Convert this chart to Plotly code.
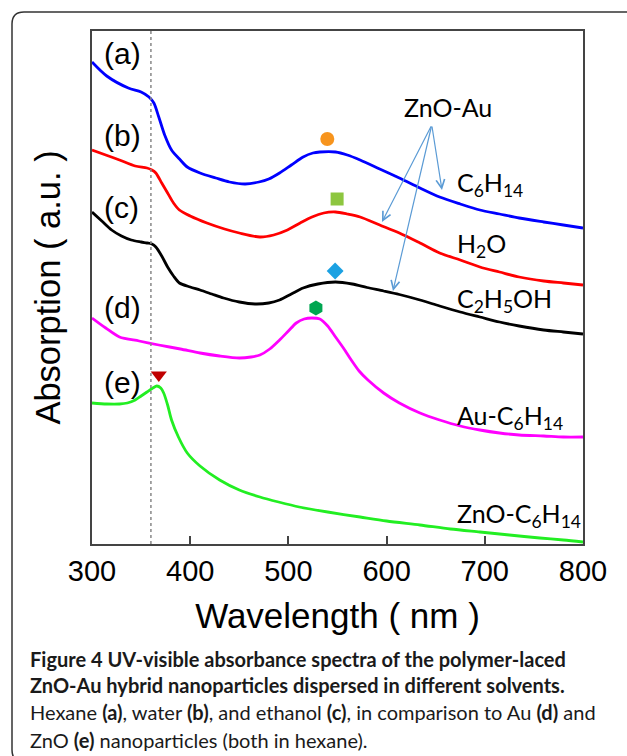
import plotly.graph_objects as go

# ---------------- data (wavelength nm, absorbance a.u., offset for display) -------------
wl_a = [300, 315, 337, 350, 358, 363, 368, 374, 381, 390, 397, 410, 426, 440, 456, 470, 480, 491, 503, 515,
        525, 532, 548, 560, 573, 593, 613, 634, 654, 675, 695, 715, 735, 760, 780, 800]
abs_a = [4.82, 4.68, 4.56, 4.52, 4.47, 4.41, 4.27, 4.09, 3.94, 3.84, 3.77, 3.71, 3.66, 3.62, 3.60, 3.62,
         3.65, 3.71, 3.79, 3.87, 3.91, 3.92, 3.92, 3.89, 3.84, 3.75, 3.66, 3.56, 3.47, 3.40, 3.34, 3.30,
         3.26, 3.22, 3.19, 3.16]

wl_b = [300, 314, 328, 344, 356, 361, 365, 371, 377, 383, 389, 400, 417, 435, 450, 471, 485, 499, 512, 524,
        536, 548, 560, 573, 593, 613, 634, 654, 675, 695, 715, 735, 760, 780, 800]
abs_b = [3.94, 3.89, 3.84, 3.78, 3.76, 3.74, 3.71, 3.61, 3.51, 3.41, 3.34, 3.28, 3.21, 3.15, 3.11, 3.07,
         3.09, 3.14, 3.21, 3.27, 3.31, 3.32, 3.30, 3.27, 3.19, 3.11, 3.01, 2.91, 2.84, 2.77, 2.72, 2.67,
         2.63, 2.61, 2.59]

wl_c = [300, 310, 320, 330, 340, 350, 356, 361, 365, 371, 377, 383, 389, 400, 410, 422, 434, 450, 466, 480,
        491, 503, 515, 530, 548, 565, 580, 597, 613, 634, 654, 675, 695, 715, 735, 760, 780, 800]
abs_c = [3.32, 3.23, 3.14, 3.08, 3.04, 3.02, 3.01, 3.00, 2.97, 2.88, 2.77, 2.68, 2.61, 2.57, 2.54, 2.50,
         2.46, 2.42, 2.40, 2.41, 2.44, 2.50, 2.56, 2.60, 2.62, 2.60, 2.565, 2.53, 2.495, 2.44, 2.38, 2.32,
         2.27, 2.22, 2.18, 2.14, 2.12, 2.10]

wl_d = [300, 314, 328, 348, 368, 390, 410, 430, 450, 462, 471, 481, 491, 500, 508, 516, 524, 532, 540, 548,
        556, 564, 572, 581, 597, 613, 634, 654, 675, 695, 715, 735, 760, 780, 800]
abs_d = [2.26, 2.16, 2.07, 2.03, 1.99, 1.95, 1.91, 1.88, 1.86, 1.87, 1.89, 1.95, 2.04, 2.13, 2.21, 2.25,
         2.26, 2.25, 2.18, 2.07, 1.96, 1.84, 1.73, 1.64, 1.51, 1.41, 1.31, 1.24, 1.18, 1.14, 1.11, 1.09,
         1.08, 1.07, 1.07]

wl_e = [300, 315, 328, 336, 344, 350, 356, 362, 366, 370, 373, 377, 381, 388, 397, 410, 430, 450, 471, 490,
        511, 540, 573, 600, 634, 665, 695, 725, 756, 780, 800]
abs_e = [1.41, 1.40, 1.40, 1.41, 1.44, 1.48, 1.52, 1.56, 1.58, 1.56, 1.51, 1.39, 1.24, 1.07, 0.91, 0.78,
         0.64, 0.54, 0.47, 0.42, 0.37, 0.32, 0.27, 0.23, 0.19, 0.15, 0.12, 0.09, 0.06, 0.04, 0.02]

curve_tags = ["(a)", "(b)", "(c)", "(d)", "(e)"]
curve_tag_y = [4.91, 4.09, 3.37, 2.37, 1.62]
curve_names = ["ZnO-Au in C<sub>6</sub>H<sub>14</sub>", "ZnO-Au in H<sub>2</sub>O",
               "ZnO-Au in C<sub>2</sub>H<sub>5</sub>OH", "Au-C<sub>6</sub>H<sub>14</sub>",
               "ZnO-C<sub>6</sub>H<sub>14</sub>"]
curve_colors = ["#0000FF", "#FF0000", "#000000", "#FF00FF", "#22EE22"]

# peak markers
peak_wl = [539.6, 549.6, 547.6, 528, 368]
peak_y = [4.05, 3.45, 2.73, 2.36, 1.69]
peak_symbols = ["circle", "square", "diamond", "hexagon", "triangle-down"]
peak_colors = ["#F7941D", "#8DC63F", "#1BA1E2", "#00A651", "#C00000"]
peak_sizes = [14, 13, 13, 15, 14]

# right-hand labels
side_labels = ["C<sub>6</sub>H<sub>14</sub>", "H<sub>2</sub>O", "C<sub>2</sub>H<sub>5</sub>OH",
               "Au-C<sub>6</sub>H<sub>14</sub>", "ZnO-C<sub>6</sub>H<sub>14</sub>"]
side_label_y = [3.60, 2.99, 2.44, 1.27, 0.29]
side_label_x = 670

group_label = "ZnO-Au"
group_label_pos = (662.5, 4.37)
arrow_tail = (646, 4.19)
arrow_heads_wl = [656.4, 595.3, 606.5]
arrow_heads_y = [3.54, 3.22, 2.53]

band_edge = 360
x_ticks = [300, 400, 500, 600, 700, 800]

# ---------------- geometry (body margin removed by post_script) ----------------
FW, FH = 627, 756
PL, PT, PW, PH = 92, 31, 491, 513


def px_to_paper_x(px):
    return (px - PL) / PW


def py_to_paper_y(py):
    return (PT + PH - py) / PH


# ---------------- figure ----------------
fig = go.Figure()
series = [(wl_a, abs_a), (wl_b, abs_b), (wl_c, abs_c), (wl_d, abs_d), (wl_e, abs_e)]
for (wx, wy), name, col in zip(series, curve_names, curve_colors):
    fig.add_trace(go.Scatter(x=wx, y=wy, mode="lines", name=name,
                             line=dict(color=col, width=2.8, shape="spline", smoothing=0.8),
                             showlegend=False))

for wx, wy, sym, col, sz in zip(peak_wl, peak_y, peak_symbols, peak_colors, peak_sizes):
    fig.add_trace(go.Scatter(x=[wx], y=[wy], mode="markers", showlegend=False,
                             marker=dict(symbol=sym, color=col, size=sz, line=dict(width=0))))

annotations = []
for tag, ty in zip(curve_tags, curve_tag_y):
    annotations.append(dict(x=310, y=ty, xref="x", yref="y", text=tag, showarrow=False,
                            xanchor="left", yanchor="middle",
                            font=dict(family="Liberation Sans, Arial", size=30, color="black")))
for lab, ly in zip(side_labels, side_label_y):
    annotations.append(dict(x=side_label_x, y=ly, xref="x", yref="y", text=lab, showarrow=False,
                            xanchor="left", yanchor="middle",
                            font=dict(family="Lato, Calibri, sans-serif", size=25, color="black")))
annotations.append(dict(x=group_label_pos[0], y=group_label_pos[1], xref="x", yref="y", text=group_label,
                        showarrow=False, xanchor="center", yanchor="middle",
                        font=dict(family="Lato, Calibri, sans-serif", size=25, color="black")))
for hx, hy in zip(arrow_heads_wl, arrow_heads_y):
    annotations.append(dict(x=hx, y=hy, xref="x", yref="y", ax=arrow_tail[0], ay=arrow_tail[1],
                            axref="x", ayref="y", text="", showarrow=True, arrowhead=5,
                            arrowsize=1.4, arrowwidth=1.2, arrowcolor="#5B9BD5"))

caption = [
    ("<b>Figure 4 UV-visible absorbance spectra of the polymer-laced</b>", 659),
    ("<b>ZnO-Au hybrid nanoparticles dispersed in different solvents.</b>", 685),
    ("Hexane <b>(a)</b>, water <b>(b)</b>, and ethanol <b>(c)</b>, in comparison to Au <b>(d)</b> and", 712),
    ("ZnO <b>(e)</b> nanoparticles (both in hexane).", 740),
]
for txt, py in caption:
    annotations.append(dict(x=px_to_paper_x(28), y=py_to_paper_y(py), xref="paper", yref="paper",
                            text=txt, showarrow=False, xanchor="left", yanchor="middle",
                            font=dict(family="Lato, sans-serif", size=20, color="#1a1a1a")))

# outer rounded frame (decoration); right and bottom sides lie outside the page
L, T, B, R = px_to_paper_x(12), py_to_paper_y(12), py_to_paper_y(762), px_to_paper_x(720)
rx, ry = 12 / PW, 12 / PH
frame_path = (f"M {R},{T} L {L+rx},{T} Q {L},{T} {L},{T-ry} L {L},{B+ry} Q {L},{B} {L+rx},{B} L {R},{B}")

fig.update_layout(
    width=FW, height=FH,
    margin=dict(l=PL, r=FW - PL - PW, t=PT, b=FH - PT - PH),
    paper_bgcolor="white", plot_bgcolor="white",
    annotations=annotations,
    shapes=[
        dict(type="line", xref="x", yref="paper", x0=band_edge, x1=band_edge, y0=0, y1=1,
             line=dict(color="#888888", width=1.5, dash="dot")),
        dict(type="path", xref="paper", yref="paper", path=frame_path,
             line=dict(color="#333333", width=1.5)),
    ],
    xaxis=dict(range=[300, 800], tickvals=x_ticks, ticks="inside", ticklen=8, tickwidth=1.5,
               tickcolor="#444", showline=True, linecolor="#444", linewidth=2, mirror=True,
               showgrid=False, zeroline=False,
               tickfont=dict(family="Liberation Sans, Arial", size=29, color="black"),
               title=dict(text="Wavelength ( nm )", standoff=18,
                          font=dict(family="Liberation Sans, Arial", size=35, color="black")),
               automargin=False),
    yaxis=dict(range=[0, 5.13], showticklabels=False, ticks="", showline=True, linecolor="#444",
               linewidth=2, mirror=True, showgrid=False, zeroline=False,
               title=dict(text="Absorption ( a.u. )", standoff=19,
                          font=dict(family="Liberation Sans, Arial", size=34.5, color="black")),
               automargin=False),
)

fig.write_html("out.html", config={"displayModeBar": False},
               post_script="document.body.style.margin='0';document.body.style.overflow='hidden';")
